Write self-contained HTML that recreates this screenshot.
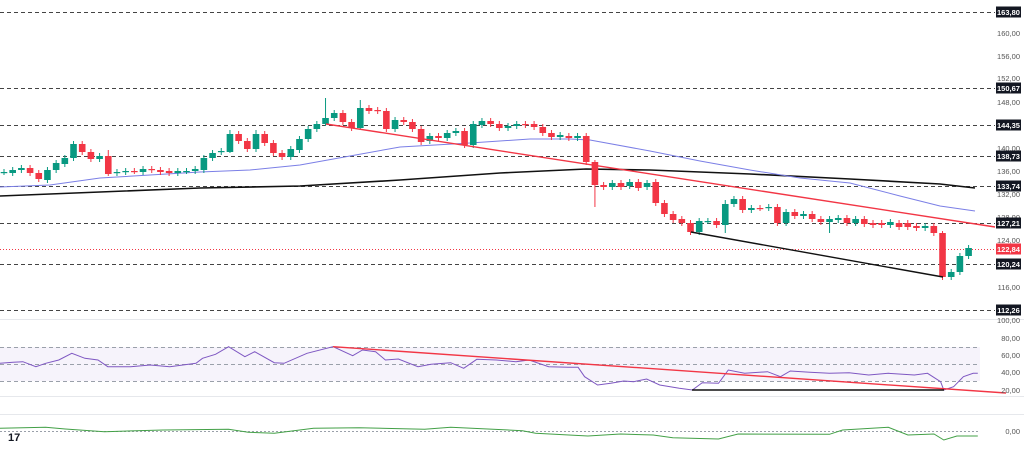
<!DOCTYPE html>
<html><head><meta charset="utf-8"><style>
html,body{margin:0;padding:0;background:#fff;width:1024px;height:453px;overflow:hidden}
svg{display:block;font-family:"Liberation Sans",sans-serif}
</style></head><body>
<svg id="s" width="1024" height="453" viewBox="0 0 1024 453" xmlns="http://www.w3.org/2000/svg">
<rect width="1024" height="453" fill="#fff"/>
<g stroke="#f0f1f4" stroke-width="1">
<line x1="0" y1="319.5" x2="1024" y2="319.5" stroke="#e6e8ec"/>
<line x1="0" y1="396.5" x2="1024" y2="396.5" stroke="#e6e8ec"/>
<line x1="0" y1="414.5" x2="1024" y2="414.5" stroke="#e6e8ec"/>
</g>
<rect x="0" y="347" width="980" height="34" fill="#7e57c2" fill-opacity="0.07"/>
<g stroke="#9aa0aa" stroke-dasharray="4,3" stroke-width="1">
<line x1="0" y1="347.5" x2="980" y2="347.5"/>
<line x1="0" y1="364.5" x2="980" y2="364.5"/>
<line x1="0" y1="381.5" x2="980" y2="381.5"/>
<line x1="0" y1="431.5" x2="980" y2="431.5" stroke-dasharray="2,2"/>
</g>
<g stroke="#444" stroke-dasharray="4,3" stroke-width="1">
<line x1="0" y1="12.5" x2="995" y2="12.5"/>
<line x1="0" y1="88.5" x2="995" y2="88.5"/>
<line x1="0" y1="125.5" x2="995" y2="125.5"/>
<line x1="0" y1="156.5" x2="995" y2="156.5"/>
<line x1="0" y1="186.5" x2="995" y2="186.5"/>
<line x1="0" y1="223.5" x2="995" y2="223.5"/>
<line x1="0" y1="264.5" x2="995" y2="264.5"/>
<line x1="0" y1="310.5" x2="995" y2="310.5"/>
</g>
<line x1="0" y1="249.5" x2="995" y2="249.5" stroke="#f23645" stroke-dasharray="1,2" stroke-width="1"/>
<polyline fill="none" stroke="#111" stroke-width="1.6" points="0,196 100,192 200,188 300,186 400,180 500,173 586,169 650,170 750,174 850,179 940,184 975,188"/>
<polyline fill="none" stroke="#7b7fe6" stroke-width="1" points="0,187 50,185 100,178 150,175 200,172 250,170 300,165 350,156 400,147 470,143 530,139 570,139 590,140 650,151 700,161 750,170 800,178 850,183 900,196 940,206 975,211"/>
<g id="candles"></g>
<line x1="326" y1="124" x2="995" y2="227" stroke="#f23645" stroke-width="1.4"/>
<line x1="691" y1="232" x2="943" y2="277" stroke="#111" stroke-width="1.4"/>
<polyline id="rsi" fill="none" stroke="#7e57c2" stroke-width="1"/>
<line x1="333" y1="346.7" x2="1006" y2="393" stroke="#f23645" stroke-width="1.4"/>
<line x1="692" y1="390" x2="944" y2="390" stroke="#111" stroke-width="1.4"/>
<polyline id="macd" fill="none" stroke="#43a047" stroke-width="1"/>
<g font-size="7.5" fill="#555" text-anchor="end">
<text x="1020" y="36">160,00</text><text x="1020" y="59">156,00</text><text x="1020" y="81">152,00</text>
<text x="1020" y="105">148,00</text><text x="1020" y="151">140,00</text><text x="1020" y="174">136,00</text>
<text x="1020" y="197">132,00</text><text x="1020" y="220">128,00</text><text x="1020" y="243">124,00</text>
<text x="1020" y="290">116,00</text><text x="1020" y="323">100,00</text>
<text x="1020" y="341">80,00</text><text x="1020" y="358">60,00</text><text x="1020" y="375">40,00</text>
<text x="1020" y="393">20,00</text><text x="1020" y="434">0,00</text>
</g>
<g id="labels" font-size="7.5" font-weight="bold" fill="#fff" text-anchor="middle"></g>
<text x="8" y="441" font-size="11" font-weight="bold" fill="#131722">17</text>
</svg>
<script>
var ns="http://www.w3.org/2000/svg";
function el(t,a,p){var e=document.createElementNS(ns,t);for(var k in a)e.setAttribute(k,a[k]);p.appendChild(e);return e;}
var c=[[172,172,'g'],[170,173,'g'],[168,170,'g'],[168,173,'r'],[173,179,'r'],[170,180,'g'],[163,170,'g'],[158,164,'g'],[144,158,'g'],[144,152,'r'],[152,159,'r'],[156,159,'g'],[156,174,'r'],[172,173,'g'],[171,172,'g'],[171,171,'r'],[169,172,'g'],[169,170,'r'],[170,172,'r'],[171,173,'r'],[171,173,'g'],[171,171,'g'],[169,171,'g'],[158,170,'g'],[153,158,'g'],[151,152,'g'],[134,152,'g'],[134,141,'r'],[141,149,'r'],[134,149,'g'],[134,143,'r'],[143,153,'r'],[153,157,'r'],[149,157,'g'],[139,150,'g'],[129,139,'g'],[124,129,'g'],[118,124,'g'],[113,118,'g'],[113,122,'r'],[122,128,'r'],[108,128,'g'],[108,111,'r'],[110,111,'r'],[111,129,'r'],[120,129,'g'],[120,122,'r'],[122,129,'r'],[129,142,'r'],[136,141,'g'],[136,138,'r'],[133,138,'g'],[131,133,'g'],[131,145,'r'],[124,145,'g'],[121,125,'g'],[121,124,'r'],[124,128,'r'],[126,128,'g'],[124,126,'g'],[124,125,'r'],[124,127,'r'],[127,133,'r'],[133,137,'r'],[135,137,'g'],[136,138,'r'],[136,138,'g'],[136,162,'r'],[162,185,'r'],[185,187,'r'],[183,187,'g'],[183,187,'r'],[182,186,'g'],[182,188,'r'],[183,187,'g'],[182,203,'r'],[203,214,'r'],[214,220,'r'],[219,223,'r'],[223,232,'r'],[221,232,'g'],[221,221,'g'],[221,225,'r'],[204,225,'g'],[199,204,'g'],[199,210,'r'],[208,210,'g'],[208,208,'r'],[207,208,'g'],[207,223,'r'],[212,223,'g'],[212,216,'r'],[214,216,'g'],[214,219,'r'],[219,222,'r'],[219,222,'g'],[218,220,'g'],[218,223,'r'],[219,223,'g'],[219,224,'r'],[223,225,'r'],[223,225,'r'],[222,225,'g'],[223,227,'r'],[223,227,'r'],[226,228,'r'],[226,228,'g'],[226,233,'r'],[233,277,'r'],[272,277,'g'],[256,272,'g'],[248,256,'g']];
var wick={37:[98,126],68:[160,207],83:[200,233],95:[216,233],108:[231,280],12:[150,176],26:[130,153],41:[100,130],29:[130,152]};
var g=document.getElementById('candles');
c.forEach(function(d,i){var x=4+8.69*i;var col=d[2]=='g'?'#089981':'#f23645';
var w=wick[i]||[d[0]-3,d[1]+3];
el('line',{x1:x,x2:x,y1:w[0],y2:w[1],stroke:col,'stroke-width':1},g);
var h=Math.max(1.2,d[1]-d[0]);el('rect',{x:x-3.3,y:d[0],width:6.6,height:h,fill:col},g);});
var r=[[0,160],[20,157],[35,155],[55,170],[70,160],[90,150],[110,130],[130,145],[150,150],[165,170],[200,170],[230,165],[260,170],[280,165],[300,160],[310,145],[330,133],[350,110],[375,140],[390,125],[420,158],[435,160],[470,130],[510,110],[540,137],[555,120],[575,125],[590,150],[610,147],[640,170],[660,163],[690,158],[710,175],[730,148],[760,150],[790,155],[810,150],[840,170],[870,172],[885,172],[895,200],[915,225],[935,220],[955,213],[970,215],[990,207],[1010,225],[1040,235],[1060,240],[1075,218],[1100,220],[1115,180],[1140,190],[1175,185],[1195,200],[1210,183],[1240,187],[1270,190],[1300,188],[1330,195],[1360,190],[1400,195],[1420,190],[1440,215],[1445,240],[1460,230],[1475,200],[1490,190],[1497,190]];
document.getElementById('rsi').setAttribute('points',r.map(function(p){return (p[0]/1.531).toFixed(1)+','+(310+p[1]/3).toFixed(1)}).join(' '));
var m=[[0,355],[70,352],[100,357],[160,365],[250,360],[350,358],[380,367],[420,370],[480,355],[550,353],[650,358],[690,352],[800,362],[820,370],[900,378],[950,372],[1000,375],[1030,383],[1100,387],[1130,372],[1270,373],[1290,360],[1360,352],[1390,375],[1430,372],[1445,390],[1465,378],[1497,378]];
document.getElementById('macd').setAttribute('points',m.map(function(p){return (p[0]/1.531).toFixed(1)+','+(310+p[1]/3).toFixed(1)}).join(' '));
var L=[[12,'163,80','#131722'],[88,'150,67','#131722'],[125,'144,35','#131722'],[156,'138,73','#131722'],[186,'133,74','#131722'],[223,'127,21','#131722'],[249,'122,84','#f23645'],[264,'120,24','#131722'],[310,'112,26','#131722']];
var lg=document.getElementById('labels');
L.forEach(function(l){el('rect',{x:996,y:l[0]-5.5,width:25,height:11,fill:l[2]},lg);var t=el('text',{x:1008.5,y:l[0]+3},lg);t.textContent=l[1];});
</script>
</body></html>
